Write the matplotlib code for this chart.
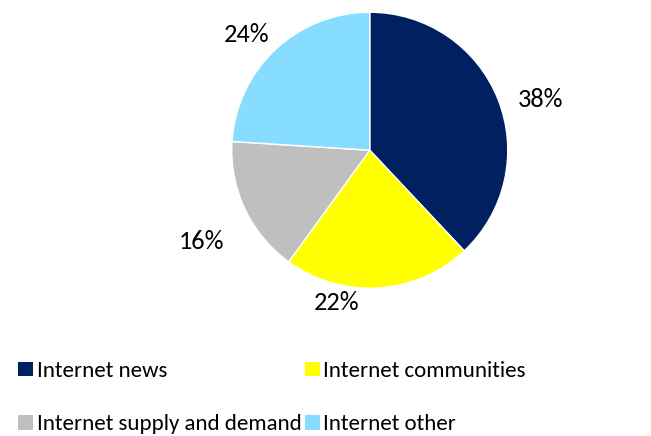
import matplotlib
matplotlib.use("Agg")
import matplotlib.pyplot as plt
from matplotlib.patches import Patch
from matplotlib import font_manager

categories = ["Internet news", "Internet communities", "Internet supply and demand", "Internet other"]
values = [38, 22, 16, 24]
colors = ["#002060", "#FFFF00", "#BFBFBF", "#87DDFF"]

names = {f.name for f in font_manager.fontManager.ttflist}
fam = 'Lato'
for cand in ['Carlito', 'Liberation Sans Narrow', 'Roboto Condensed', 'Open Sans Condensed']:
    if cand in names:
        fam = cand
        break
plt.rcParams['font.family'] = [fam, 'DejaVu Sans']
fs_pct = 19 if fam == 'Carlito' else 17
fs_leg = 16.5 if fam == 'Carlito' else 15

fig = plt.figure(figsize=(6.51, 4.36), dpi=100)
ax = fig.add_axes([0.356, 0.339, 0.424, 0.633])
wedges, texts, autotexts = ax.pie(values, colors=colors, startangle=90, counterclock=False,
                                  autopct=lambda p: f"{p:.0f}%", pctdistance=1.25,
                                  wedgeprops=dict(linewidth=1.0, edgecolor="white"),
                                  textprops=dict(fontsize=fs_pct, color="black"))
ax.set_aspect('equal')
ax.set_xlim(-1, 1)
ax.set_ylim(-1, 1)

# label placement (in pie radius units), as in the reference layout
label_pos = [(1.239, 0.370), (-0.239, -1.101), (-1.217, -0.659), (-0.891, 0.841)]
for t, p in zip(autotexts, label_pos):
    t.set_position(p)
    t.set_ha('center')
    t.set_va('center')

order = [0, 2, 1, 3]
handles = [Patch(facecolor=colors[i], edgecolor='none') for i in order]
labels = [categories[i] for i in order]
fig.legend(handles, labels, ncol=2, loc='upper left', bbox_to_anchor=(0.014, 0.193),
           frameon=False, fontsize=fs_leg, handlelength=0.65, handleheight=0.62,
           handletextpad=0.15, columnspacing=0.15, labelspacing=1.45, borderaxespad=0,
           labelcolor="black")

fig.savefig("out.png", dpi=100)
